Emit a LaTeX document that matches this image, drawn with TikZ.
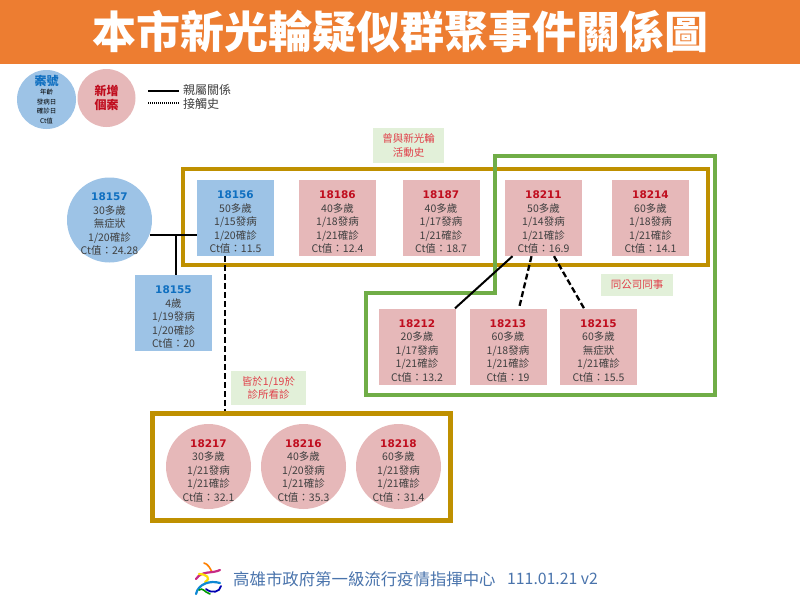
\documentclass[tikz,border=0pt]{standalone}
\usepackage{fontspec}
\setmainfont{Noto Sans CJK TC}
\newfontfamily\idfont{DejaVu Sans}
\definecolor{bandorange}{HTML}{ED7D31}
\definecolor{caseblue}{HTML}{9DC3E6}
\definecolor{casepink}{HTML}{E6B8B9}
\definecolor{idblue}{HTML}{0F6FC0}
\definecolor{idred}{HTML}{C00D1E}
\definecolor{framegold}{HTML}{BF9000}
\definecolor{framegreen}{HTML}{70AD47}
\definecolor{notegreen}{HTML}{E2F0D9}
\definecolor{notered}{HTML}{E0404A}
\definecolor{bodygray}{HTML}{404040}
\definecolor{footblue}{HTML}{4A74AC}
\newcommand{\oldid}[1]{\rule{0pt}{16pt}{\idfont\bfseries\color{idblue}#1}}
\newcommand{\newid}[1]{\rule{0pt}{16pt}{\idfont\bfseries\color{idred}#1}}
\tikzset{
	casetext/.style={align=center,inner sep=0pt,text=bodygray,font=\fontsize{10.5}{13.5}\selectfont},
	bluebox/.style={casetext,fill=caseblue,minimum width=77pt,minimum height=76pt},
	pinkbox/.style={casetext,fill=casepink,minimum width=77pt,minimum height=76pt},
	bluedot/.style={casetext,circle,inner sep=-10pt,fill=caseblue,minimum size=85pt},
	pinkdot/.style={casetext,circle,inner sep=-10pt,fill=casepink,minimum size=85pt},
	goldframe/.style={draw=framegold,line width=4.5pt,inner sep=0pt},
	noteblock/.style={fill=notegreen,align=center,inner sep=0pt,text=notered,font=\fontsize{10.5}{13.5}\selectfont},
	family/.style={line width=2pt},
	contact/.style={line width=2.3pt,dash pattern=on 6pt off 3pt},
}
\begin{document}
\begin{tikzpicture}[x=1pt,y=-1pt]
	\useasboundingbox (0,0) rectangle (800,600);
	% title band
	\fill[bandorange] (0,0) rectangle (800,64);
	\node[text=white,inner sep=0pt,font=\fontsize{44}{46}\bfseries\selectfont] (title) at (400,32) {本市新光輪疑似群聚事件關係圖};
	% legend
	\node[circle,fill=caseblue,minimum size=59pt,inner sep=-10pt,align=center,text=black,font=\fontsize{6.5}{9.6}\selectfont] (legcase) at (46.5,99.5) {{\fontsize{12}{12}\bfseries\selectfont\color{idblue}案號}\\年齡\\發病日\\確診日\\Ct值};
	\node[circle,fill=casepink,minimum size=58pt,inner sep=0pt,align=center,text=idred,font=\fontsize{12}{14}\bfseries\selectfont] (legnew) at (106.5,98) {新增\\個案};
	\coordinate (legA) at (148,91);
	\coordinate (legB) at (179,91);
	\coordinate (legC) at (148,103);
	\coordinate (legD) at (179,103);
	\draw[line width=1.3pt] (legA) -- (legB);
	\draw[line width=1.1pt,dash pattern=on 1pt off 1pt] (legC) -- (legD);
	\node[anchor=west,inner sep=0pt,text=bodygray,font=\fontsize{12}{13}\selectfont] (legfam) at (183,90) {親屬關係};
	\node[anchor=west,inner sep=0pt,text=bodygray,font=\fontsize{12}{13}\selectfont] (legcon) at (183,104) {接觸史};
	% frames
	\node[goldframe,minimum width=525pt,minimum height=96pt] (activity) at (445.5,217) {};
	\node[goldframe,minimum width=298pt,minimum height=107pt] (clinic) at (301.5,467) {};
	\coordinate (gA) at (495,156);
	\coordinate (gB) at (715,156);
	\coordinate (gC) at (715,395);
	\coordinate (gD) at (366,395);
	\coordinate (gE) at (366,293);
	\coordinate (gF) at (495,293);
	\draw[framegreen,line width=4pt] (gA) -- (gB) -- (gC) -- (gD) -- (gE) -- (gF) -- cycle;
	% notes
	\node[noteblock,minimum width=71pt,minimum height=35pt] (noteA) at (408.5,145.5) {曾與新光輪\\活動史};
	\node[noteblock,minimum width=72pt,minimum height=22pt] (noteB) at (637,285) {同公司同事};
	\node[noteblock,minimum width=75pt,minimum height=34pt] (noteC) at (268.5,388) {皆於1/19於\\診所看診};
	% cases
	\node[bluedot] (c18157) at (109.5,220) {\oldid{18157}\\30多歲\\無症狀\\1/20確診\\Ct值：24.28};
	\node[bluebox] (c18156) at (235.5,218) {\oldid{18156}\\50多歲\\1/15發病\\1/20確診\\Ct值：11.5};
	\node[bluebox] (c18155) at (173.5,313) {\oldid{18155}\\4歲\\1/19發病\\1/20確診\\Ct值：20};
	\node[pinkbox] (c18186) at (337.5,218) {\newid{18186}\\40多歲\\1/18發病\\1/21確診\\Ct值：12.4};
	\node[pinkbox] (c18187) at (441,218) {\newid{18187}\\40多歲\\1/17發病\\1/21確診\\Ct值：18.7};
	\node[pinkbox] (c18211) at (543.5,218) {\newid{18211}\\50多歲\\1/14發病\\1/21確診\\Ct值：16.9};
	\node[pinkbox] (c18214) at (650.5,218) {\newid{18214}\\60多歲\\1/18發病\\1/21確診\\Ct值：14.1};
	\node[pinkbox] (c18212) at (417,346.5) {\newid{18212}\\20多歲\\1/17發病\\1/21確診\\Ct值：13.2};
	\node[pinkbox] (c18213) at (508,346.5) {\newid{18213}\\60多歲\\1/18發病\\1/21確診\\Ct值：19};
	\node[pinkbox] (c18215) at (598.5,346.5) {\newid{18215}\\60多歲\\無症狀\\1/21確診\\Ct值：15.5};
	\node[pinkdot] (c18217) at (208.5,466.5) {\newid{18217}\\30多歲\\1/21發病\\1/21確診\\Ct值：32.1};
	\node[pinkdot] (c18216) at (303.5,466.5) {\newid{18216}\\40多歲\\1/20發病\\1/21確診\\Ct值：35.3};
	\node[pinkdot] (c18218) at (398.5,466.5) {\newid{18218}\\60多歲\\1/21發病\\1/21確診\\Ct值：31.4};
	% links
	\coordinate (joint) at (175.5,234.7);
	\draw[family] (c18157.-20.6) -- (c18157.-20.6 -| c18156.west);
	\draw[family] (joint) -- (joint |- c18155.north);
	\draw[contact] ([xshift=-10.5pt]c18156.south) -- ([xshift=-10.5pt]c18156.south |- clinic.north);
	\draw[family] ([xshift=-31pt]c18211.south) -- ([xshift=38pt]c18212.north);
	\draw[contact] ([xshift=-12pt]c18211.south) -- ([xshift=11pt]c18213.north);
	\draw[contact] ([xshift=10.5pt]c18211.south) -- ([xshift=-14.5pt]c18215.north);
	% footer
	\draw[line width=1.6pt,line cap=round,color=orange] (204,563) .. controls (208,564) and (210,568) .. (212,572);
	\draw[line width=2.2pt,line cap=round,color=magenta!80!black] (196,579) .. controls (202,570) and (212,574) .. (220,570);
	\draw[line width=2.2pt,line cap=round,color=yellow!80!orange] (199,574) .. controls (206,574) and (212,578) .. (205,582);
	\draw[line width=2.2pt,line cap=round,color=cyan!70!blue] (196,594) .. controls (198,584) and (210,580) .. (220,583);
	\draw[line width=1.8pt,line cap=round,color=blue!70!black] (206,589) .. controls (212,594) and (220,592) .. (221,586);
	\draw[line width=1.6pt,line cap=round,color=green!60!black] (199,590) .. controls (203,587) and (204,592) .. (210,594);
	\node[anchor=west,inner sep=0pt,text=footblue,font=\fontsize{16.4}{18}\selectfont] (footer) at (233,579) {高雄市政府第一級流行疫情指揮中心};
	\node[anchor=west,inner sep=0pt,text=footblue,font=\fontsize{15.8}{18}\selectfont] (version) at (507,579) {111.01.21 v2};
\end{tikzpicture}
\end{document}
